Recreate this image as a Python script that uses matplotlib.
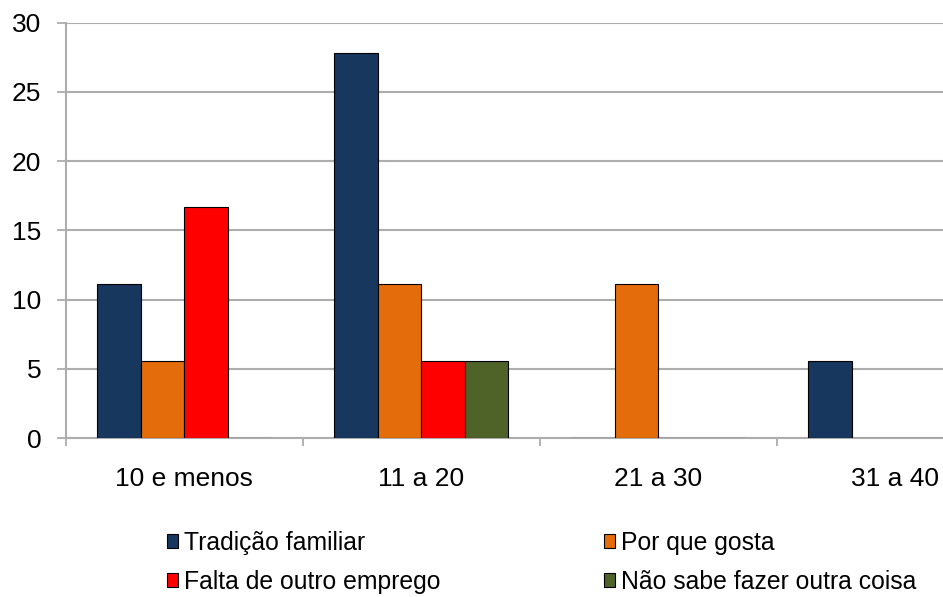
import numpy as np
import matplotlib.pyplot as plt
from matplotlib.ticker import FixedLocator

plt.rcParams['font.family'] = ['Liberation Sans', 'DejaVu Sans']

categories = ["10 e menos", "11 a 20", "21 a 30", "31 a 40"]
series = ["Tradição familiar", "Por que gosta", "Falta de outro emprego", "Não sabe fazer outra coisa"]
tradicao = [11.1, 27.8, 0, 5.6]
gosta = [5.6, 11.1, 11.1, 0]
falta = [16.7, 5.6, 0, 0]
nao_sabe = [0, 5.6, 0, 0]
colors = ["#17375E", "#E46C0A", "#FF0000", "#4F6228"]

values = [tradicao, gosta, falta, nao_sabe]

fig = plt.figure(figsize=(9.43, 5.97), dpi=100)
W, H = 943, 597
# the plot area runs past the right edge, as in the original screenshot
ax = fig.add_axes([65.7 / W, (H - 438.3) / H, 948 / W, 415.8 / H])

x = np.arange(len(categories))
w = 0.183
bars = []
for i, (name, vals) in enumerate(zip(series, values)):
    b = ax.bar(x + (i - 1.5) * w, vals, width=w, color=colors[i],
               edgecolor="black", linewidth=0.8, label=name, zorder=3)
    bars.append(b)

ax.set_xlim(-0.5, 3.5)
ax.set_ylim(0, 30)
ax.set_yticks(np.arange(0, 31, 5))
ax.yaxis.grid(True, color="#ADADAD", linewidth=1.5, zorder=0)

ax.set_xticks(x)
ax.set_xticklabels(categories)
ax.xaxis.set_minor_locator(FixedLocator(np.arange(-0.5, 4.0, 1.0)))
ax.tick_params(axis="x", which="major", length=0, pad=21, labelsize=19)
ax.tick_params(axis="x", which="minor", length=6, width=1.3, color="#ADADAD")
ax.tick_params(axis="y", length=6.5, width=1.3, color="#ADADAD", pad=11, labelsize=19)

for s in ["top", "right"]:
    ax.spines[s].set_visible(False)
for s in ["left", "bottom"]:
    ax.spines[s].set_color("#ADADAD")
    ax.spines[s].set_linewidth(1.5)

# legend filled row by row: matplotlib fills columns first, so reorder
order = [0, 2, 1, 3]
fig.legend([bars[k] for k in order], [series[k] for k in order],
           loc="upper left", bbox_to_anchor=(157 / W, 1 - 521 / H), ncol=2,
           frameon=False, fontsize=17.8, handlelength=0.45, handleheight=0.45,
           handletextpad=0.25, columnspacing=6.6, labelspacing=0.6,
           borderaxespad=0)

fig.savefig("out.png", dpi=100)
